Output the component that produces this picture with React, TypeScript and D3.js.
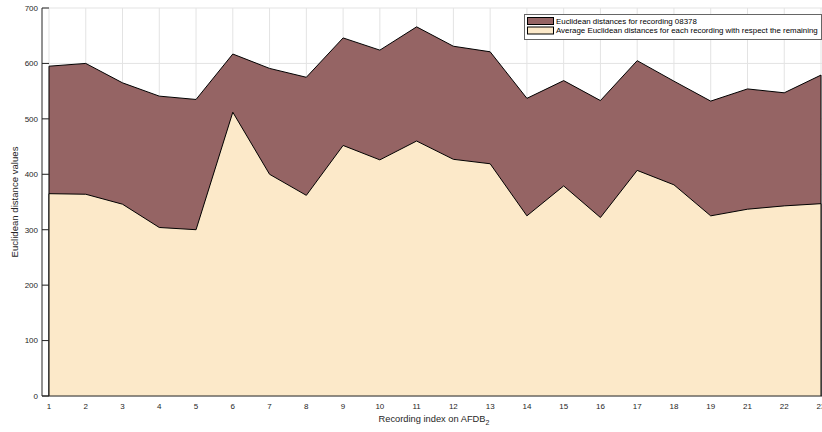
import React from "react";
import * as d3 from "d3";

const categories = ["1","2","3","4","5","6","7","8","9","10","11","12","13","14","15","16","17","18","19","21","22","23"];
const recording08378 = [595,600,565,541,535,617,591,575,646,624,666,631,621,537,569,533,605,568,532,554,547,579];
const averageDist = [365,364,346,304,300,512,400,362,452,426,460,427,419,325,379,322,407,381,325,337,343,347];
const yTicks = [0,100,200,300,400,500,600,700];
const legendLabels = [
  "Euclidean distances for recording 08378",
  "Average Euclidean distances for each recording with respect the remaining",
];

const W = 822, H = 432;
const DARK = "#956464";
const BEIGE = "#fce9c9";
const FONT = "'Liberation Sans', Arial, Helvetica, sans-serif";

export default function App() {
  const axisX = 42;
  const top = 8, bottom = 396;
  const x = d3.scaleLinear().domain([0, categories.length - 1]).range([49, 821]);
  const y = d3.scaleLinear().domain([0, 700]).range([bottom, top]);

  const area = d3.area<number>()
    .x((_, i) => x(i))
    .y0(y(0))
    .y1((d) => y(d));

  const line = d3.line<number>().x((_, i) => x(i)).y((d) => y(d));

  const outline = (vals: number[]) =>
    `M${x(0)},${y(0)}L${x(0)},${y(vals[0])}` +
    (line(vals) || "").replace(/^M[^L]*/, "") +
    `L${x(vals.length - 1)},${y(0)}`;

  return (
    <svg width={W} height={H} style={{ position: "absolute", left: 0, top: 0, background: "#fff" }}>
      {/* grid */}
      <g stroke="#e3e3e3" strokeWidth={1}>
        {categories.map((c, i) => (
          <line key={"vg" + c} x1={x(i)} x2={x(i)} y1={top} y2={bottom} />
        ))}
        {yTicks.map((t) => (
          <line key={"hg" + t} x1={axisX} x2={W} y1={y(t)} y2={y(t)} />
        ))}
      </g>

      {/* areas */}
      <path d={area(recording08378) || ""} fill={DARK} stroke="none" />
      <path d={outline(recording08378)} fill="none" stroke="#000" strokeWidth={1} strokeLinejoin="round" />
      <path d={area(averageDist) || ""} fill={BEIGE} stroke="none" />
      <path d={outline(averageDist)} fill="none" stroke="#000" strokeWidth={1} strokeLinejoin="round" />

      {/* axes */}
      <line x1={axisX} x2={axisX} y1={top} y2={bottom} stroke="#262626" strokeWidth={1} />
      <line x1={axisX} x2={W} y1={bottom} y2={bottom} stroke="#262626" strokeWidth={1} />
      {yTicks.map((t) => (
        <g key={"yt" + t}>
          <line x1={axisX} x2={axisX + 7} y1={y(t)} y2={y(t)} stroke="#262626" strokeWidth={1} />
          <text x={axisX - 4} y={y(t)} dy="0.35em" textAnchor="end" fontFamily={FONT} fontSize={8} fill="#262626">
            {t}
          </text>
        </g>
      ))}
      {categories.map((c, i) => (
        <text key={"xt" + c} x={x(i)} y={406} dy="0.35em" textAnchor="middle" fontFamily={FONT} fontSize={8} fill="#262626">
          {c}
        </text>
      ))}

      {/* axis labels */}
      <text x={434} y={419} dy="0.35em" textAnchor="middle" fontFamily={FONT} fontSize={9.3} fill="#262626">
        Recording index on AFDB
        <tspan fontSize={7} dy="3">2</tspan>
      </text>
      <text
        transform={`translate(15,${(top + bottom) / 2}) rotate(-90)`}
        textAnchor="middle"
        dy="0.35em"
        fontFamily={FONT}
        fontSize={9.6}
        fill="#262626"
      >
        Euclidean distance values
      </text>

      {/* legend */}
      <g>
        <rect x={524.5} y={14.5} width={297} height={25} fill="#fff" stroke="#666" strokeWidth={1} />
        {[DARK, BEIGE].map((col, i) => (
          <g key={"lg" + i}>
            <rect x={527.5} y={17.5 + i * 9.5} width={26} height={7} fill={col} stroke="#000" strokeWidth={1} />
            <text x={556} y={21 + i * 9.5} dy="0.35em" fontFamily={FONT} fontSize={7.9} fill="#000">
              {legendLabels[i]}
            </text>
          </g>
        ))}
      </g>
    </svg>
  );
}
